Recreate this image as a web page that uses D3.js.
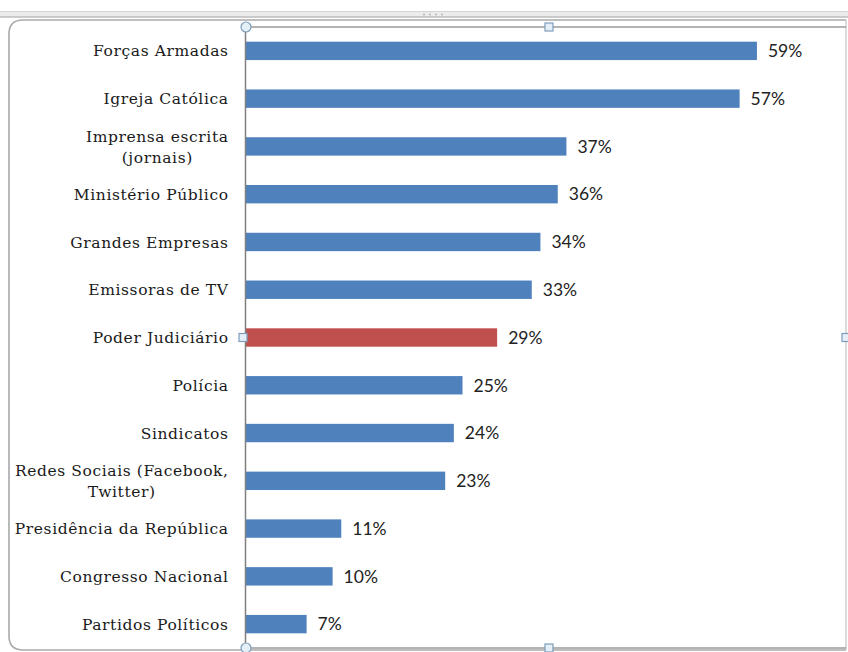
<!DOCTYPE html>
<html>
<head>
<meta charset="utf-8">
<script src="https://cdn.jsdelivr.net/npm/d3@7"></script>
<style>
  html, body { margin: 0; padding: 0; background: #ffffff; }
  svg { display: block; }
</style>
</head>
<body>
<script>
// Institutions, each as one or two wrapped label lines
const categories = [
  ["Forças Armadas"],
  ["Igreja Católica"],
  ["Imprensa escrita", "(jornais)"],
  ["Ministério Público"],
  ["Grandes Empresas"],
  ["Emissoras de TV"],
  ["Poder Judiciário"],
  ["Polícia"],
  ["Sindicatos"],
  ["Redes Sociais (Facebook,", "Twitter)"],
  ["Presidência da República"],
  ["Congresso Nacional"],
  ["Partidos Políticos"]
];
// Share of confidence, in percent
const values = [59, 57, 37, 36, 34, 33, 29, 25, 24, 23, 11, 10, 7];
// The highlighted institution
const highlighted = ["Poder Judiciário"];

const W = 848, H = 652;
const svg = d3.select("body").append("svg").attr("width", W).attr("height", H);

const keys = categories.map(c => c.join(" "));

const plot = { left: 245, right: 846, top: 27, bottom: 648 };

const y = d3.scaleBand()
  .domain(keys)
  .range([plot.top, plot.bottom])
  .paddingInner(0.615)
  .paddingOuter(0.3075);

const x = d3.scaleLinear().domain([0, 70]).range([plot.left + 1, plot.left + 1 + 70 * 8.66]);

// Window strip along the top edge
svg.append("rect").attr("x", 0).attr("y", 11).attr("width", W).attr("height", 6).attr("fill", "#ececec");
svg.append("line").attr("x1", 0).attr("x2", W).attr("y1", 11.5).attr("y2", 11.5).attr("stroke", "#d4d4d4");
svg.append("line").attr("x1", 0).attr("x2", W).attr("y1", 17).attr("y2", 17).attr("stroke", "#bdbdbd").attr("stroke-width", 1.5);
svg.append("g").selectAll("circle").data(d3.range(4)).join("circle")
  .attr("cx", d => 424 + d * 6).attr("cy", 14.5).attr("r", 0.9).attr("fill", "#b0b0b0");

// Chart area frame with rounded corners
const fr = { x0: 9, y0: 20, x1: 846, y1: 650, r: 14 };
svg.append("path")
  .attr("d", `M${fr.x1},${fr.y0} L${fr.x0 + fr.r},${fr.y0} Q${fr.x0},${fr.y0} ${fr.x0},${fr.y0 + fr.r} L${fr.x0},${fr.y1 - fr.r} Q${fr.x0},${fr.y1} ${fr.x0 + fr.r},${fr.y1} L${fr.x1},${fr.y1}`)
  .attr("fill", "none").attr("stroke", "#a9a9a9").attr("stroke-width", 1.6);
svg.append("line").attr("x1", fr.x1).attr("x2", fr.x1).attr("y1", fr.y0).attr("y2", fr.y1)
  .attr("stroke", "#c4c4c4").attr("stroke-width", 1.2);

// Plot area outline (top and bottom edges)
svg.append("line").attr("x1", plot.left).attr("x2", plot.right).attr("y1", plot.top).attr("y2", plot.top)
  .attr("stroke", "#9a9a9a").attr("stroke-width", 1.5);
svg.append("line").attr("x1", plot.left).attr("x2", plot.right).attr("y1", plot.bottom).attr("y2", plot.bottom)
  .attr("stroke", "#9a9a9a").attr("stroke-width", 1.5);

// Bars
svg.append("g").selectAll("rect").data(values).join("rect")
  .attr("x", x(0))
  .attr("y", (d, i) => y(keys[i]))
  .attr("width", d => x(d) - x(0))
  .attr("height", y.bandwidth())
  .attr("fill", (d, i) => highlighted.includes(keys[i]) ? "#c0504d" : "#4f81bd");

// Category axis line
const axis = svg.append("g").attr("transform", `translate(${plot.left},0)`)
  .call(d3.axisLeft(y).tickSize(0).tickFormat(""));
axis.select(".domain").attr("stroke", "#7f7f7f").attr("stroke-width", 1.5);

// Category labels, right-aligned as a block, lines centred within it
const spacing = 0.6;
const labelRight = 228 + spacing;
const lineH = 21;
const lg = svg.append("g")
  .attr("font-family", "'DejaVu Serif', serif")
  .attr("font-size", 15.5)
  .attr("letter-spacing", spacing)
  .attr("fill", "#1a1a1a");
categories.forEach((lines, i) => {
  const cy = y(keys[i]) + y.bandwidth() / 2;
  const t = lg.append("text").attr("text-anchor", "middle");
  const spans = lines.map((ln, j) => t.append("tspan").text(ln)
    .attr("y", cy + (j - (lines.length - 1) / 2) * lineH)
    .attr("dy", "0.36em"));
  const wmax = d3.max(spans, s => s.node().getComputedTextLength());
  spans.forEach(s => s.attr("x", labelRight - wmax / 2));
});

// Value labels
svg.append("g").selectAll("text").data(values).join("text")
  .attr("x", d => x(d) + 11)
  .attr("y", (d, i) => y(keys[i]) + y.bandwidth() / 2)
  .attr("dy", "0.36em")
  .attr("font-family", "Lato, sans-serif")
  .attr("font-size", 17.5)
  .attr("fill", "#222")
  .text(d => d + "%");

// Selection handles on the plot area
const handleStroke = "#7f9db9", handleFill = "#e4eff8";
[[plot.left + 1, plot.top], [plot.left + 1, plot.bottom]].forEach(([cx, cy]) => {
  svg.append("circle").attr("cx", cx).attr("cy", cy).attr("r", 5)
    .attr("fill", handleFill).attr("stroke", handleStroke).attr("stroke-width", 1.2);
});
[[549, plot.top], [549, plot.bottom], [243, (plot.top + plot.bottom) / 2], [plot.right, (plot.top + plot.bottom) / 2]]
  .forEach(([cx, cy]) => {
    svg.append("rect").attr("x", cx - 4).attr("y", cy - 4).attr("width", 8).attr("height", 8)
      .attr("fill", handleFill).attr("stroke", handleStroke).attr("stroke-width", 1.2);
  });
</script>
</body>
</html>
